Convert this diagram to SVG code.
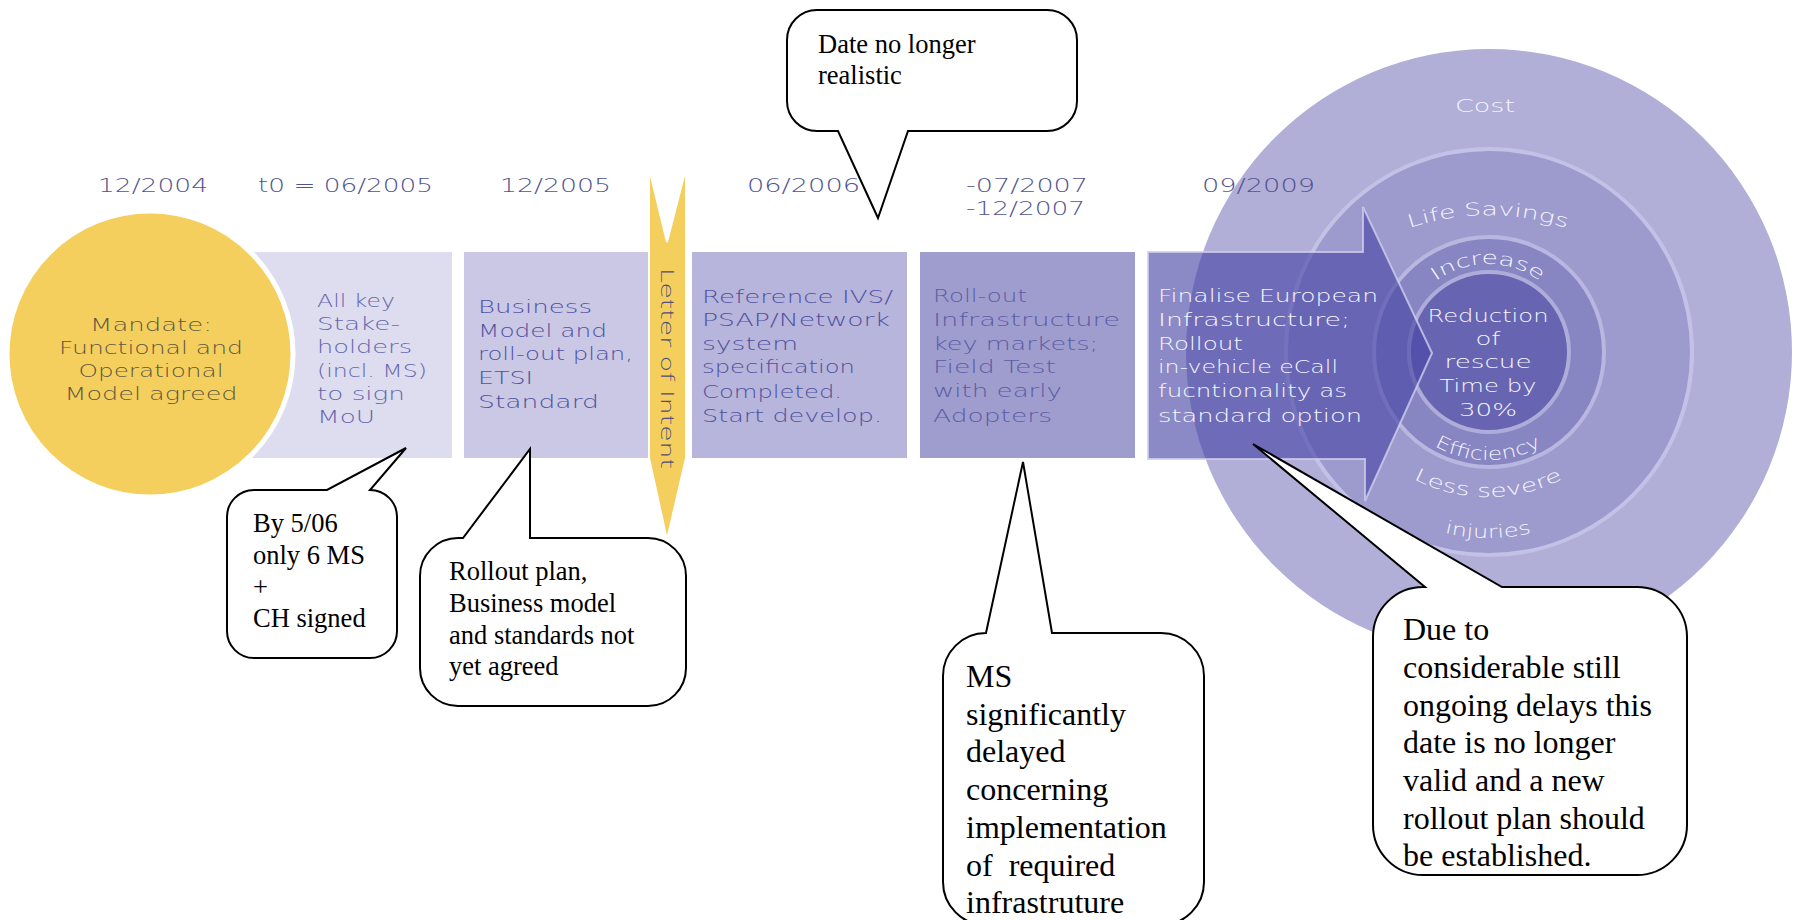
<svg xmlns="http://www.w3.org/2000/svg" width="1795" height="920" viewBox="0 0 1795 920">
<defs>
<style>
.g{font-family:"DejaVu Sans","Liberation Sans",sans-serif;font-size:18px;font-weight:200}
.dt{font-size:20px;fill:#51548f}
.r1{fill:#6567ad}
.rt{fill:#4f51a0}
.wt{fill:#f6f6fd}
.ct{fill:#5e5840}
.bub{fill:#fff;stroke:#000;stroke-width:2;stroke-linejoin:miter}
.s{font-family:"Liberation Serif","Times New Roman",serif;fill:#000}
.s1{font-size:26.5px}
.s2{font-size:32px}
</style>
<path id="pLife" d="M1378,241 A248,248 0 0 1 1598,241"/>
<path id="pInc" d="M1400,352 A88,88 0 0 1 1576,352"/>
<path id="pEff" d="M1380,352 A108,108 0 0 0 1596,352"/>
<path id="pLess" d="M1326,352 A163,163 0 0 0 1650,352"/>
<path id="pInj" d="M1302,352 A186,186 0 0 0 1674,352"/>
</defs>
<rect width="1795" height="920" fill="#fff"/>

<g id="rings">
<circle cx="1489" cy="352" r="303" fill="#b1aed8"/>
<circle cx="1489" cy="352" r="203" fill="#9d9acd" stroke="#c3c1e6" stroke-width="4"/>
<circle cx="1489" cy="352" r="115" fill="#8785c2" stroke="#b9b7e0" stroke-width="4"/>
<circle cx="1489" cy="352" r="80" fill="#6765b1" stroke="#aeacd9" stroke-width="4"/>
<text class="g wt" x="1485" y="112" text-anchor="middle" textLength="60" lengthAdjust="spacingAndGlyphs">Cost</text>
<text class="g wt" font-size="20" text-anchor="middle"><textPath href="#pLife" startOffset="50%" textLength="160" lengthAdjust="spacingAndGlyphs">Life Savings</textPath></text>
<text class="g wt" text-anchor="middle"><textPath href="#pInc" startOffset="50%" textLength="112" lengthAdjust="spacingAndGlyphs">Increase</textPath></text>
<text class="g wt" text-anchor="middle"><textPath href="#pEff" startOffset="50%" textLength="112" lengthAdjust="spacingAndGlyphs">Efficiency</textPath></text>
<text class="g wt" text-anchor="middle"><textPath href="#pLess" startOffset="50%" textLength="155" lengthAdjust="spacingAndGlyphs">Less severe</textPath></text>
<text class="g wt" text-anchor="middle"><textPath href="#pInj" startOffset="50%" textLength="88" lengthAdjust="spacingAndGlyphs">injuries</textPath></text>
</g>

<g id="dates" class="g dt">
<text x="98" y="192" textLength="110" lengthAdjust="spacingAndGlyphs">12/2004</text>
<text x="258" y="192" textLength="175" lengthAdjust="spacingAndGlyphs">t0 = 06/2005</text>
<text x="500" y="192" textLength="111" lengthAdjust="spacingAndGlyphs">12/2005</text>
<text x="747" y="192" textLength="113" lengthAdjust="spacingAndGlyphs">06/2006</text>
<text x="966" y="192" textLength="122" lengthAdjust="spacingAndGlyphs">-07/2007</text>
<text x="966" y="215" textLength="119" lengthAdjust="spacingAndGlyphs">-12/2007</text>
<text x="1202" y="192" textLength="113" lengthAdjust="spacingAndGlyphs">09/2009</text>
</g>

<g id="node-stakeholders">
<rect x="240" y="252" width="212" height="206" fill="#dedcef"/>
<g class="g r1">
<text x="317" y="307" textLength="78" lengthAdjust="spacingAndGlyphs">All key</text>
<text x="317" y="330" textLength="83" lengthAdjust="spacingAndGlyphs">Stake-</text>
<text x="317" y="353" textLength="95" lengthAdjust="spacingAndGlyphs">holders</text>
<text x="317" y="377" textLength="110" lengthAdjust="spacingAndGlyphs">(incl. MS)</text>
<text x="317" y="400" textLength="88" lengthAdjust="spacingAndGlyphs">to sign</text>
<text x="317" y="423" textLength="58" lengthAdjust="spacingAndGlyphs">MoU</text>
</g>
</g>

<g id="node-mandate">
<circle cx="150" cy="354" r="143" fill="#f5cf5e" stroke="#fff" stroke-width="5"/>
<g class="g ct" text-anchor="middle">
<text x="151" y="331" textLength="122" lengthAdjust="spacingAndGlyphs">Mandate:</text>
<text x="151" y="354" textLength="184" lengthAdjust="spacingAndGlyphs">Functional and</text>
<text x="151" y="377" textLength="145" lengthAdjust="spacingAndGlyphs">Operational</text>
<text x="151" y="400" textLength="173" lengthAdjust="spacingAndGlyphs">Model agreed</text>
</g>
</g>

<g id="node-business">
<rect x="464" y="252" width="188" height="206" fill="#cac8e5"/>
<g class="g rt">
<text x="478" y="313" textLength="114" lengthAdjust="spacingAndGlyphs">Business</text>
<text x="478" y="337" textLength="129" lengthAdjust="spacingAndGlyphs">Model and</text>
<text x="478" y="360" textLength="155" lengthAdjust="spacingAndGlyphs">roll-out plan,</text>
<text x="478" y="384" textLength="55" lengthAdjust="spacingAndGlyphs">ETSI</text>
<text x="478" y="408" textLength="121" lengthAdjust="spacingAndGlyphs">Standard</text>
</g>
</g>

<g id="node-letter">
<path d="M649,168 L667,242 L686,168 V458 L667,540 L649,458 Z" fill="#f5cf5e" stroke="#fff" stroke-width="2"/>
<text class="g" fill="#4e4e78" transform="translate(661,268) rotate(90)" textLength="201" lengthAdjust="spacingAndGlyphs">Letter of Intent</text>
</g>

<g id="node-reference">
<rect x="692" y="252" width="215" height="206" fill="#b7b5db"/>
<g class="g rt">
<text x="702" y="303" textLength="191" lengthAdjust="spacingAndGlyphs">Reference IVS/</text>
<text x="702" y="326" textLength="188" lengthAdjust="spacingAndGlyphs">PSAP/Network</text>
<text x="702" y="350" textLength="96" lengthAdjust="spacingAndGlyphs">system</text>
<text x="702" y="373" textLength="153" lengthAdjust="spacingAndGlyphs">specification</text>
<text x="702" y="398" textLength="140" lengthAdjust="spacingAndGlyphs">Completed.</text>
<text x="702" y="422" textLength="180" lengthAdjust="spacingAndGlyphs">Start develop.</text>
</g>
</g>

<g id="node-rollout">
<rect x="920" y="252" width="215" height="206" fill="#9f9dcd"/>
<g class="g" fill="#5a5ca8">
<text x="933" y="302" textLength="94" lengthAdjust="spacingAndGlyphs">Roll-out</text>
<text x="933" y="326" textLength="187" lengthAdjust="spacingAndGlyphs">Infrastructure</text>
<text x="933" y="350" textLength="165" lengthAdjust="spacingAndGlyphs">key markets;</text>
<text x="933" y="373" textLength="123" lengthAdjust="spacingAndGlyphs">Field Test</text>
<text x="933" y="397" textLength="129" lengthAdjust="spacingAndGlyphs">with early</text>
<text x="933" y="422" textLength="119" lengthAdjust="spacingAndGlyphs">Adopters</text>
</g>
</g>

<g id="node-finalise">
<path d="M1148,252 H1363 V207 L1432,353 L1365,501 V459 H1148 Z" fill="#4845a4" fill-opacity="0.63" stroke="#d0ceee" stroke-width="2" stroke-opacity="0.8"/>
<g class="g wt">
<text x="1158" y="302" textLength="220" lengthAdjust="spacingAndGlyphs">Finalise European</text>
<text x="1158" y="326" textLength="192" lengthAdjust="spacingAndGlyphs">Infrastructure;</text>
<text x="1158" y="350" textLength="85" lengthAdjust="spacingAndGlyphs">Rollout</text>
<text x="1158" y="373" textLength="180" lengthAdjust="spacingAndGlyphs">in-vehicle eCall</text>
<text x="1158" y="397" textLength="189" lengthAdjust="spacingAndGlyphs">fucntionality as</text>
<text x="1158" y="422" textLength="204" lengthAdjust="spacingAndGlyphs">standard option</text>
</g>
</g>

<g id="node-reduction" class="g wt" text-anchor="middle">
<text x="1488" y="322" textLength="121" lengthAdjust="spacingAndGlyphs">Reduction</text>
<text x="1488" y="345" textLength="25" lengthAdjust="spacingAndGlyphs">of</text>
<text x="1488" y="368" textLength="87" lengthAdjust="spacingAndGlyphs">rescue</text>
<text x="1488" y="392" textLength="97" lengthAdjust="spacingAndGlyphs">Time by</text>
<text x="1488" y="416" textLength="58" lengthAdjust="spacingAndGlyphs">30%</text>
</g>

<g id="connectors"></g>

<g id="callout-mou">
<path class="bub" d="M254,490 H327 L406,448 L370,490 A27,27 0 0 1 397,517 V631 A27,27 0 0 1 370,658 H254 A27,27 0 0 1 227,631 V517 A27,27 0 0 1 254,490 Z"/>
<g class="s s1">
<text x="253" y="532">By 5/06</text>
<text x="253" y="564">only 6 MS</text>
<text x="253" y="596">+</text>
<text x="253" y="627">CH signed</text>
</g>
</g>

<g id="callout-rollout">
<path class="bub" d="M420,576 A38,38 0 0 1 458,538 H463 L530,449 V538 H648 A38,38 0 0 1 686,576 V668 A38,38 0 0 1 648,706 H458 A38,38 0 0 1 420,668 Z"/>
<g class="s s1">
<text x="449" y="580">Rollout plan,</text>
<text x="449" y="612">Business model</text>
<text x="449" y="644">and standards not</text>
<text x="449" y="675">yet agreed</text>
</g>
</g>

<g id="callout-date">
<path class="bub" d="M817,10 H1047 A30,30 0 0 1 1077,40 V101 A30,30 0 0 1 1047,131 H908 L878,218 L838,131 H817 A30,30 0 0 1 787,101 V40 A30,30 0 0 1 817,10 Z"/>
<g class="s s1">
<text x="818" y="53">Date no longer</text>
<text x="818" y="84">realistic</text>
</g>
</g>

<g id="callout-ms">
<path class="bub" d="M943,676 A43,43 0 0 1 986,633 L1023,462 L1052,633 H1161 A43,43 0 0 1 1204,676 V882 A43,43 0 0 1 1161,925 H986 A43,43 0 0 1 943,882 Z"/>
<g class="s s2">
<text x="966" y="687">MS</text>
<text x="966" y="725">significantly</text>
<text x="966" y="762">delayed</text>
<text x="966" y="800">concerning</text>
<text x="966" y="838">implementation</text>
<text x="966" y="876" xml:space="preserve">of  required</text>
<text x="966" y="913">infrastruture</text>
</g>
</g>

<g id="callout-delays">
<path class="bub" d="M1373,637 A50,50 0 0 1 1423,587 H1425 L1253,444 L1502,587 H1637 A50,50 0 0 1 1687,637 V825 A50,50 0 0 1 1637,875 H1423 A50,50 0 0 1 1373,825 Z"/>
<g class="s s2">
<text x="1403" y="640">Due to</text>
<text x="1403" y="678">considerable still</text>
<text x="1403" y="716">ongoing delays this</text>
<text x="1403" y="753">date is no longer</text>
<text x="1403" y="791">valid and a new</text>
<text x="1403" y="829">rollout plan should</text>
<text x="1403" y="866">be established.</text>
</g>
</g>
</svg>
